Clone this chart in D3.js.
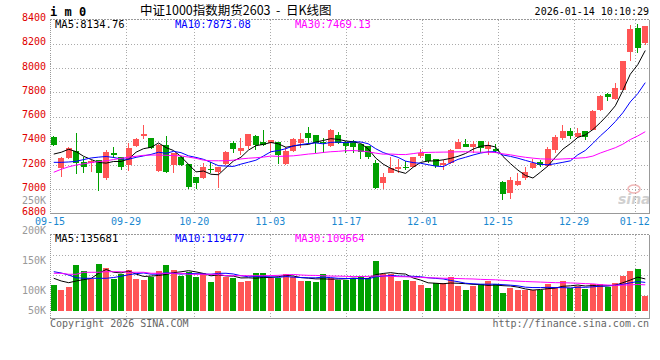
<!DOCTYPE html>
<html><head><meta charset="utf-8">
<script src="https://cdn.jsdelivr.net/npm/d3@7/dist/d3.min.js"></script>
<style>body{margin:0;background:#fff}svg{display:block}</style>
</head><body><svg id="c" width="660" height="360"></svg>
<script>
// ---------- data ----------
const dates = ["09-15","09-16","09-17","09-18","09-19","09-22","09-23","09-24","09-25","09-26","09-29","09-30",
"10-09","10-10","10-13","10-14","10-15","10-16","10-17","10-20","10-21","10-22","10-23","10-24","10-27","10-28","10-29","10-30","10-31",
"11-03","11-04","11-05","11-06","11-07","11-10","11-11","11-12","11-13","11-14","11-17","11-18","11-19","11-20","11-21","11-24","11-25","11-26","11-27","11-28",
"12-01","12-02","12-03","12-04","12-05","12-08","12-09","12-10","12-11","12-12","12-15","12-16","12-17","12-18","12-19","12-22","12-23","12-24","12-25","12-26","12-29","12-30","12-31",
"01-05","01-06","01-07","01-08","01-09","01-12","01-13","01-14"];
const openP = [7428,7173,7255,7315,7227,7219,7241,7090,7301,7263,7200,7356,7439,7420,7153,7365,7200,7268,7208,7104,
7095,7168,7145,7206,7383,7315,7356,7439,7392,7379,7389,7206,7318,7379,7466,7447,7390,7356,7447,7390,
7400,7373,7356,7214,7050,7137,7167,7186,7186,7277,7290,7249,7200,7214,7332,7373,7345,7400,7329,7329,
7063,6967,7035,7090,7173,7227,7194,7323,7420,7480,7428,7480,7488,7651,7782,7743,7817,8132,8333,8206];
const highP = [7440,7262,7345,7466,7268,7240,7245,7320,7346,7265,7378,7420,7527,7425,7370,7441,7300,7275,7210,7105,
7219,7222,7185,7315,7400,7420,7458,7450,7488,7410,7392,7348,7420,7460,7515,7450,7420,7495,7470,7400,
7405,7375,7358,7241,7137,7263,7247,7230,7265,7329,7292,7250,7241,7330,7414,7414,7400,7402,7390,7373,
7065,7104,7137,7186,7247,7240,7351,7447,7530,7507,7502,7482,7650,7775,7795,7877,8060,8352,8360,8344];
const lowP = [7360,7104,7250,7126,7132,7140,6988,7080,7255,7162,7154,7350,7414,7330,7140,7135,7134,7190,7000,7000,
7082,7135,7013,7200,7301,7282,7332,7325,7360,7297,7208,7200,7310,7340,7373,7301,7301,7350,7375,7300,
7301,7247,7250,7000,7000,7130,7132,7162,7180,7255,7214,7172,7159,7210,7330,7345,7300,7300,7280,7301,
6912,6920,7030,7077,7165,7180,7185,7300,7410,7412,7420,7406,7485,7648,7729,7740,7815,8058,8124,8187];
const closeP = [7365,7255,7337,7214,7186,7235,7132,7310,7282,7186,7337,7414,7455,7337,7365,7145,7296,7200,7021,7054,
7181,7162,7181,7310,7329,7337,7455,7365,7365,7406,7282,7315,7414,7414,7420,7384,7380,7488,7384,7355,
7351,7310,7263,7008,7104,7178,7186,7178,7263,7301,7235,7194,7219,7323,7387,7351,7373,7337,7365,7318,
6959,7077,7068,7145,7214,7200,7332,7428,7480,7439,7461,7433,7647,7768,7762,7831,8056,8325,8165,8344];
const volume = [113600,95100,106200,187600,165400,134700,191300,176500,135800,153200,
169100,135800,132100,142100,165400,187600,169100,148000,162800,143200,
158000,125800,165400,144300,138400,124700,128400,158000,158000,138400,
138400,154300,144300,129500,128400,124700,154300,138400,132100,132100,
138400,146900,140600,202400,153200,153200,129500,132100,129500,114700,
102500,122100,122100,143200,109900,95100,109900,117300,128400,116200,
84000,103600,96200,95100,95100,95100,118400,107300,128400,103600,
109900,99900,116200,118400,107300,121000,146900,165400,172800,74000];
// moving-average values before each window is full
const ma5Lead = [7290,7305,7330,7310];
const ma10Lead = [7222,7222,7225,7230,7245,7258,7265,7270,7262];
const ma30Lead = [7140,7165,7185,7200,7210,7220,7228,7235,7245,7255,7265,7272,7280,7282,7282,7280,7278,7275,7265,7255,7240,7235,7235,7235,7240,7250,7256,7260,7265];
const vma5Lead = [138400,128400,122100,128400];
const vma10Lead = [162800,158000,150600,140600,138400,138400,138400,138400,141300];
const vma30Lead = [156900,156900,153200,153200,160600,160600,160600,162800,162800,162800,160600,160600,160600,156900,156900,156900,156900,156900,153200,153200,153200,153200,153200,148000,148000,148000,148000,148000,148000];
const priceTicks = [6800,7000,7200,7400,7600,7800,8000,8200,8400];
const volTicks = [250000,200000,150000,100000,50000];
const volTickLabels = ["250K","200K","150K","100K","50K"];
const dateTicks = ["09-15","09-29","10-20","11-03","11-17","12-01","12-15","12-29","01-12"];
const priceLegend = ["MA5:8134.76","MA10:7873.08","MA30:7469.13"];
const volLegend = ["MA5:135681","MA10:119477","MA30:109664"];
const maColors = ["#000000","#0000ff","#ff00ff"];

// ---------- helpers ----------
function movingAvg(arr, n, lead){
  return arr.map((v,i)=> i < n-1 ? lead[i] : d3.mean(arr.slice(i-n+1, i+1)));
}
const RED = "#ff5555", GREEN = "#00a000", GRID = "#aaaaaa", FRAME = "#999999";
const MONO = "'DejaVu Sans Mono', monospace";

const svg = d3.select("#c");
const L = 50, R = 649;
const pTop = 19.5, pBot = 213.5, vTop = 234.5, vBot = 318.5, vBase = 311;
const idx = d3.range(dates.length);
const xb = d3.scaleBand().domain(idx).range([L, R]).paddingInner(0.2).paddingOuter(0.1);
const xp = d3.scalePoint().domain(idx).range([L, 650]);
const yP = d3.scaleLinear().domain([6800, 8400]).range([pBot, pTop]);
const yV = d3.scaleLinear().domain([0, 200000]).range([315.7, 315.7 - 200000/3700]);
const yVLab = d3.scaleLinear().domain([100000, 250000]).range([294.3, 204]);

// ---------- gridlines ----------
const g = svg.append("g").attr("shape-rendering","crispEdges");
const tickIdx = dateTicks.map(d => dates.indexOf(d));
g.selectAll(".vgp").data(tickIdx.slice(1)).join("line")
  .attr("x1", d=>Math.round(xp(d))+0.5).attr("x2", d=>Math.round(xp(d))+0.5)
  .attr("y1", pTop).attr("y2", pBot).attr("stroke", GRID).attr("stroke-dasharray","1,2");
g.selectAll(".vgv").data(tickIdx.slice(1)).join("line")
  .attr("x1", d=>Math.round(xp(d))+0.5).attr("x2", d=>Math.round(xp(d))+0.5)
  .attr("y1", vTop).attr("y2", vBot).attr("stroke", GRID).attr("stroke-dasharray","1,2");
g.selectAll(".hgp").data(priceTicks.slice(1,-1)).join("line")
  .attr("x1", L).attr("x2", R).attr("y1", d=>Math.round(yP(d))+0.5).attr("y2", d=>Math.round(yP(d))+0.5)
  .attr("stroke", GRID).attr("stroke-dasharray","1,2");
const volGridY = [255.5, 275.5, 295.5];
g.selectAll(".hgv").data(volGridY).join("line")
  .attr("x1", L).attr("x2", R).attr("y1", d=>d).attr("y2", d=>d)
  .attr("stroke", GRID).attr("stroke-dasharray","1,2");

// ---------- frames ----------
[[pTop,pBot],[vTop,vBot]].forEach(([t,b])=>{
  g.append("line").attr("x1",L).attr("x2",R).attr("y1",t).attr("y2",t).attr("stroke",FRAME).attr("stroke-dasharray","2,1");
  g.append("line").attr("x1",L).attr("x2",R+0.5).attr("y1",b).attr("y2",b).attr("stroke",FRAME).attr("stroke-width",1.5);
  g.append("line").attr("x1",L+0.5).attr("x2",L+0.5).attr("y1",t).attr("y2",b).attr("stroke",FRAME).attr("stroke-dasharray","1,1");
  g.append("line").attr("x1",R+0.5).attr("x2",R+0.5).attr("y1",t).attr("y2",b).attr("stroke",FRAME).attr("stroke-width",1.5);
});

// ---------- candles ----------
const cg = svg.append("g").attr("shape-rendering","crispEdges");
const colorOf = i => closeP[i] >= openP[i] ? RED : GREEN;
const cx = i => Math.floor(xb(i) + xb.bandwidth()/2) + 0.5;
cg.selectAll(".wick").data(idx).join("line")
  .attr("x1", cx).attr("x2", cx)
  .attr("y1", i=>yP(highP[i])).attr("y2", i=>yP(lowP[i]))
  .attr("stroke", colorOf);
cg.selectAll(".body").data(idx).join("rect")
  .attr("x", i=>Math.round(xb(i))).attr("width", Math.round(xb.bandwidth()))
  .attr("y", i=>yP(Math.max(openP[i],closeP[i])))
  .attr("height", i=>Math.max(1.5, Math.abs(yP(openP[i])-yP(closeP[i]))))
  .attr("fill", colorOf);

// ---------- volume bars ----------
cg.selectAll(".vol").data(idx).join("rect")
  .attr("x", i=>Math.round(xb(i))).attr("width", Math.round(xb.bandwidth()))
  .attr("y", i=>yV(volume[i])).attr("height", i=>vBase - yV(volume[i]))
  .attr("fill", colorOf);

// ---------- MA lines ----------
const pMAs = [movingAvg(closeP,5,ma5Lead), movingAvg(closeP,10,ma10Lead), movingAvg(closeP,30,ma30Lead)];
const vMAs = [movingAvg(volume,5,vma5Lead), movingAvg(volume,10,vma10Lead), movingAvg(volume,30,vma30Lead)];
const lineP = d3.line().x((d,i)=>xb(i)+xb.bandwidth()/2).y(d=>yP(d));
const lineV = d3.line().x((d,i)=>xb(i)+xb.bandwidth()/2).y(d=>yV(d));
pMAs.forEach((m,k)=> svg.append("path").attr("d", lineP(m)).attr("fill","none").attr("stroke",maColors[k]).attr("stroke-width",1));
vMAs.forEach((m,k)=> svg.append("path").attr("d", lineV(m)).attr("fill","none").attr("stroke",maColors[k]).attr("stroke-width",1));

// ---------- text ----------
const t = svg.append("g").attr("font-family", MONO).attr("font-size", 10);
t.selectAll(".pl").data(priceTicks).join("text")
  .attr("x", 46).attr("y", d=>yP(d)+1.5).attr("text-anchor","end").attr("fill","#e00000").text(d=>d);
t.selectAll(".vl").data(volTicks).join("text")
  .attr("x", 46).attr("y", d=>Math.min(yVLab(d), 314.3)).attr("text-anchor","end").attr("fill","#999999")
  .text((d,i)=>volTickLabels[i]);
t.selectAll(".dl").data(tickIdx).join("text")
  .attr("x", d=>xp(d)).attr("y", 225).attr("text-anchor","middle").attr("fill","#1a88d0").text((d,i)=>dateTicks[i]);
const legX = [55, 175, 295];
t.selectAll(".plg").data(priceLegend).join("text")
  .attr("x", (d,i)=>legX[i]).attr("y", 27.5).attr("fill",(d,i)=>maColors[i]).attr("font-size",10.5).text(d=>d);
t.selectAll(".vlg").data(volLegend).join("text")
  .attr("x", (d,i)=>legX[i]).attr("y", 242).attr("fill",(d,i)=>maColors[i]).attr("font-size",10.5).text(d=>d);
t.append("text").attr("x", 649).attr("y", 15).attr("text-anchor","end").attr("fill","#000").text("2026-01-14 10:10:29");
t.append("text").attr("x", 50).attr("y", 326.5).attr("fill","#666").text("Copyright 2026 SINA.COM");
t.append("text").attr("x", 649).attr("y", 326.5).attr("text-anchor","end").attr("fill","#666").text("http://finance.sina.com.cn");
svg.append("text").attr("x", 50).attr("y", 16).attr("font-family", MONO).attr("font-weight","bold")
  .attr("font-size", 12).attr("fill","#000").text("i m 0");
svg.append("text").attr("x", 140).attr("y", 15).attr("font-family","'Noto Sans CJK SC', sans-serif")
  .attr("font-size", 12.5).attr("fill","#000")
  .text("中证1000指数期货2603\u00a0\u00a0-\u00a0\u00a0日K线图");
// watermark
const wm = svg.append("g").attr("opacity",0.45);
wm.append("ellipse").attr("cx",634).attr("cy",189).attr("rx",6).attr("ry",4).attr("fill","none").attr("stroke","#e06060").attr("stroke-width",1.5);
wm.append("text").attr("x",618).attr("y",204).attr("font-family","'DejaVu Sans', sans-serif").attr("font-style","italic")
  .attr("font-weight","bold").attr("font-size",14).attr("fill","#999").text("sina");
</script></body></html>
